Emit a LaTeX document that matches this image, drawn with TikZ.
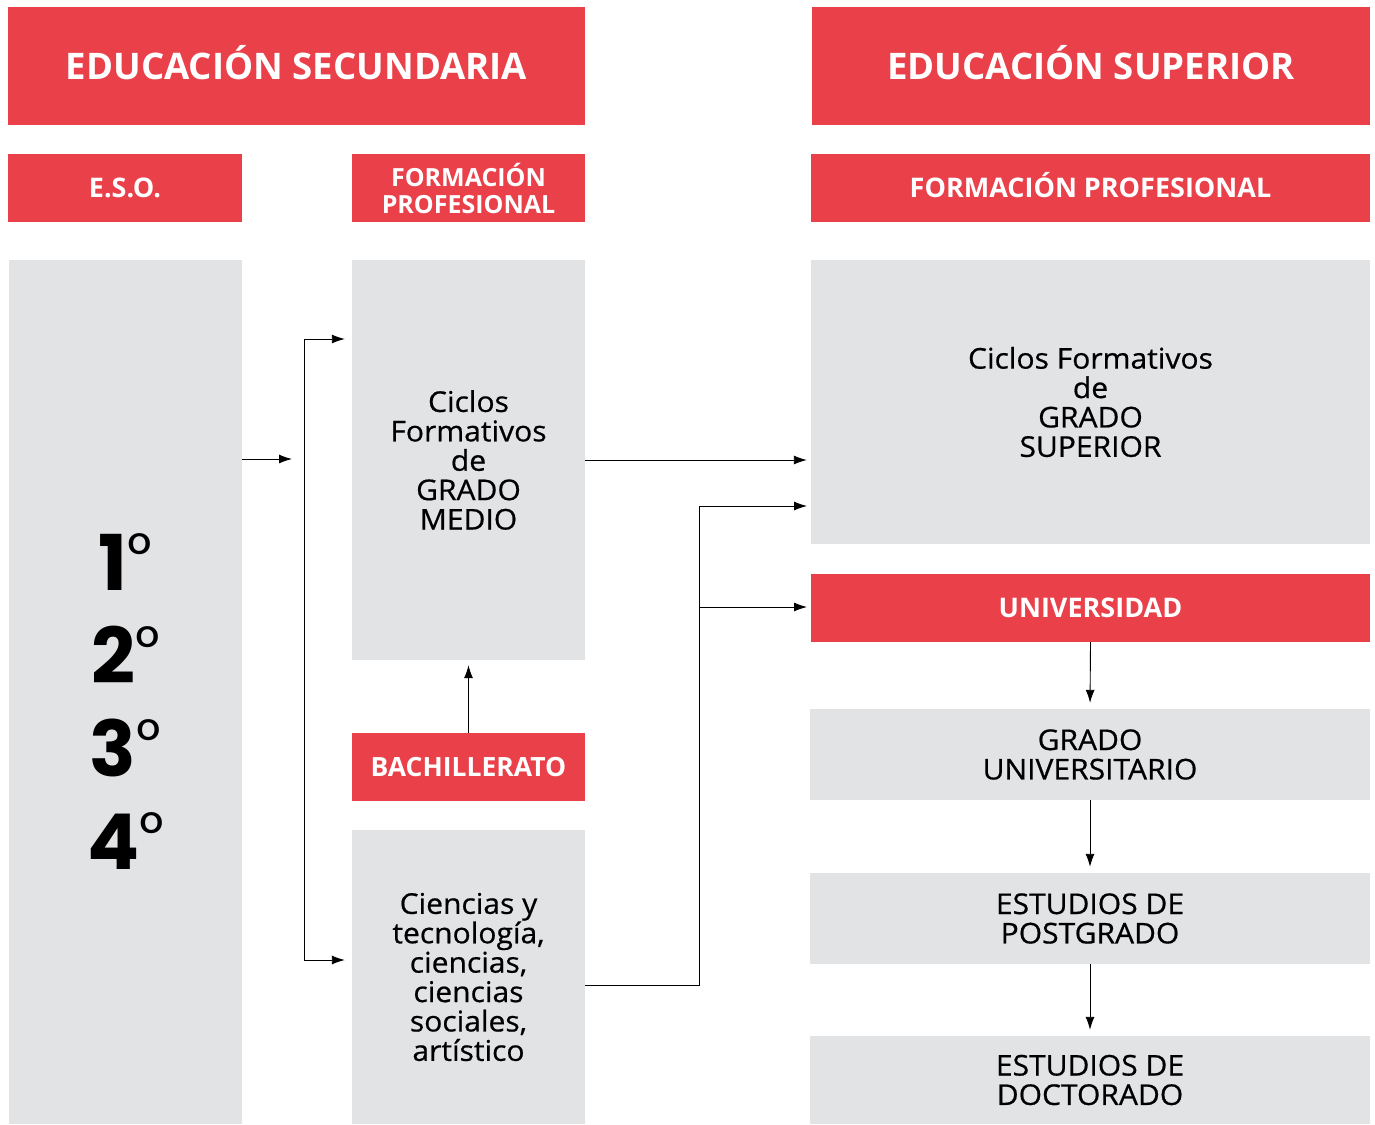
\documentclass[tikz,border=0pt]{standalone}
\usepackage{fontspec}
\setmainfont{Open Sans}
\newfontfamily\bodyfont{Open Sans}[FakeBold=0.6,FakeStretch=1.05]
\newfontfamily\numfont{Poppins}
\usetikzlibrary{positioning}
\usetikzlibrary{arrows.meta}
\definecolor{rojo}{RGB}{233,64,74}
\definecolor{gris}{RGB}{226,227,229}

\newcommand{\curso}[1]{#1\raisebox{15pt}{\mdseries\fontsize{60}{60}\selectfont°}}

\tikzset{
  redbox/.style={fill=rojo, text=white, inner sep=0pt, align=center,
                 font=\bfseries\fontsize{27}{27}\selectfont, text height=19.5, text depth=0},
  redbox2/.style={fill=rojo, text=white, inner sep=0pt, align=center,
                 font=\bfseries\fontsize{25}{27}\selectfont},
  greybox/.style={fill=gris, text=black, inner sep=0pt, align=center,
                  font=\bodyfont\fontsize{28.6}{29.4}\selectfont},
  arrow/.style={-{Latex[length=13pt,width=9pt]}, line width=0.9pt},
  link/.style={line width=0.9pt}
}

\begin{document}
\begin{tikzpicture}[x=1pt,y=-1pt]
\useasboundingbox (0,0) rectangle (1375,1124);

% headers
\node (secu) [redbox, minimum width=577, minimum height=118, text height=27,
  font=\bfseries\fontsize{36.6}{40}\selectfont] at (296.5,66) {EDUCACIÓN SECUNDARIA};
\node (super) [redbox, minimum width=558, minimum height=118, text height=27,
  font=\bfseries\fontsize{36.6}{40}\selectfont] at (1091,66) {EDUCACIÓN SUPERIOR};

\node (eso) [redbox, minimum width=234, minimum height=68] at (125,188) {E.S.O.};
\node (fpl) [redbox2, minimum width=233, minimum height=68] at (468.5,188) {FORMACIÓN\\PROFESIONAL};
\node (fpr) [redbox, minimum width=559, minimum height=68] at (1090.5,188) {FORMACIÓN PROFESIONAL};

% left column
\node (esobox) [greybox, minimum width=233, minimum height=864] at (125.5,692) {};
\node (grades) [font=\numfont\bfseries\fontsize{77}{93}\selectfont, align=center, inner sep=0pt]
  at ([yshift=-10]esobox.center) {\curso{1}\\\curso{2}\\\curso{3}\\\curso{4}};
\node (gm) [greybox, minimum width=233, minimum height=400] at (468.5,460)
  {Ciclos\\Formativos\\de\\GRADO\\MEDIO};
\node (bach) [redbox, minimum width=233, minimum height=68, font=\bfseries\fontsize{26.5}{27}\selectfont]
  at (468.5,767) {BACHILLERATO};
\node (cien) [greybox, minimum width=233, minimum height=294] at (468.5,977)
  {Ciencias y\\tecnología,\\ciencias,\\ciencias\\sociales,\\artístico};

% right column
\node (gs) [greybox, minimum width=559, minimum height=284] at (1090.5,402)
  {Ciclos Formativos\\de\\GRADO\\SUPERIOR};
\node (univ) [redbox, minimum width=559, minimum height=68] at (1090.5,608) {UNIVERSIDAD};
\node (grado) [greybox, minimum width=560, minimum height=91] at (1090,754.5)
  {GRADO\\UNIVERSITARIO};
\node (post) [greybox, minimum width=560, minimum height=91] at (1090,918.5)
  {ESTUDIOS DE\\POSTGRADO};
\node (doct) [greybox, minimum width=560, minimum height=88] at (1090,1080)
  {ESTUDIOS DE\\DOCTORADO};

% connectors
\coordinate (split) at (304,459);
\coordinate (forktop) at (304,339);
\coordinate (forkbot) at (304,960);
\coordinate (join) at (699,985);
\coordinate (gsin) at (807,506);
\coordinate (univin) at (807,607);

\draw[arrow, shorten >=12] (esobox.east |- split) -- (split);
\draw[link] (forktop) -- (forkbot);
\draw[arrow, shorten >=7] (forktop) -- (forktop -| gm.west);
\draw[arrow, shorten >=7] (forkbot) -- (forkbot -| cien.west);
\draw[arrow, shorten >=4] (gm.east) -- (gm.east -| gs.west);
\draw[arrow, shorten >=5] (bach.north) -- (gm.south);
\draw[arrow] (cien.east |- join) -- (join) |- (gsin);
\draw[arrow] (join |- univin) -- (univin);
\draw[arrow, shorten >=6] (univ.south) -- (grado.north);
\draw[arrow, shorten >=6] (grado.south) -- (post.north);
\draw[arrow, shorten >=6] (post.south) -- (doct.north);
\end{tikzpicture}
\end{document}
